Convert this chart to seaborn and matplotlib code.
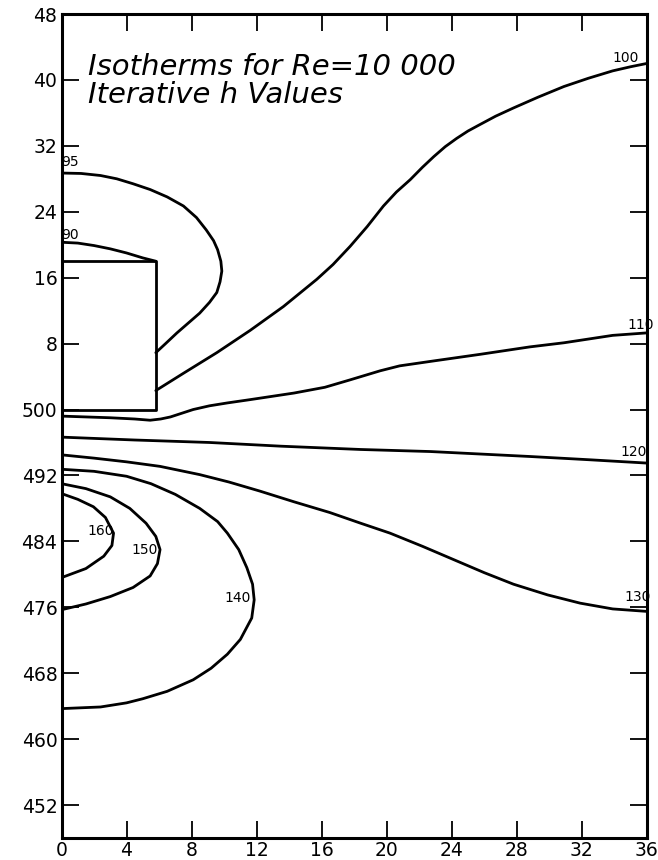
import matplotlib
matplotlib.use("Agg")
import matplotlib.pyplot as plt
import seaborn as sns
import pandas as pd

sns.set_theme(style="white")
plt.rcParams['font.family'] = ['DejaVu Sans']

# ---- data (x = distance, y = position; y<=0 labelled 500+y) ----
box_x = [0, 5.8, 5.8, 0]
box_y = [18.0, 18.0, 0.0, 0.0]

c90_x = [0, 1, 2, 3, 4, 5, 5.8]
c90_y = [20.3, 20.2, 19.9, 19.5, 19.0, 18.4, 18.0]

c95_x = [0, 1.2, 2.4, 3.4, 4.4, 5.45, 6.5, 7.5, 8.3, 8.9, 9.35, 9.6, 9.8, 9.86, 9.75, 9.55, 9.1, 8.5, 7.8, 7.1, 6.4, 5.8]
c95_y = [28.7, 28.65, 28.4, 28.0, 27.4, 26.7, 25.8, 24.7, 23.3, 21.8, 20.5, 19.4, 18.0, 16.8, 15.5, 14.2, 13.0, 11.7, 10.5, 9.3, 8.0, 6.9]

c100_x = [5.8, 7.5, 9.55, 11.6, 13.65, 15.7, 16.7, 17.75, 18.8, 19.8, 20.6, 21.45, 22.2, 22.9, 23.6, 24.3, 25.0, 25.75, 26.7, 27.8, 29.3, 30.9, 32.4, 33.9, 35.0, 36.0]
c100_y = [2.3, 4.4, 6.9, 9.6, 12.5, 15.8, 17.6, 19.8, 22.2, 24.7, 26.4, 27.9, 29.4, 30.7, 31.9, 32.9, 33.8, 34.6, 35.6, 36.6, 37.9, 39.2, 40.2, 41.1, 41.6, 42.0]

c110_x = [0, 3, 4.5, 5.45, 6.1, 6.7, 7.4, 8.1, 9.1, 10.2, 11.6, 14.3, 16.2, 17.75, 19.6, 20.8, 22.9, 25.75, 28.8, 30.9, 33.9, 36.0]
c110_y = [-0.8, -1.0, -1.15, -1.3, -1.15, -0.9, -0.45, 0.0, 0.45, 0.8, 1.2, 2.0, 2.7, 3.6, 4.7, 5.3, 5.9, 6.7, 7.6, 8.1, 9.0, 9.3]

c120_x = [0, 4.5, 9.1, 13.5, 18.4, 22.7, 28.8, 32.5, 36.0]
c120_y = [-3.35, -3.7, -4.0, -4.45, -4.85, -5.1, -5.7, -6.1, -6.5]

c130_x = [0, 2, 4, 6.06, 8.5, 10.3, 12.2, 14.3, 16.5, 18.4, 20.2, 22.2, 24.1, 26.0, 27.8, 29.9, 31.9, 33.9, 36.0]
c130_y = [-5.5, -5.9, -6.35, -6.9, -7.9, -8.8, -9.9, -11.2, -12.5, -13.8, -15.0, -16.6, -18.2, -19.8, -21.2, -22.5, -23.5, -24.2, -24.5]

c140_x = [0, 2, 4.0, 5.5, 7.0, 8.5, 9.6, 10.2, 10.9, 11.4, 11.75, 11.85, 11.7, 11.0, 10.2, 9.2, 8.1, 6.5, 5.0, 4.0, 2.4, 0]
c140_y = [-7.25, -7.5, -8.1, -9.0, -10.3, -12.0, -13.6, -15.0, -17.0, -19.2, -21.2, -23.1, -25.3, -27.9, -29.7, -31.4, -32.8, -34.2, -35.1, -35.6, -36.1, -36.3]

c150_x = [0, 1.5, 3.0, 4.2, 5.2, 5.8, 6.06, 5.9, 5.45, 4.4, 3.0, 1.5, 0]
c150_y = [-9.0, -9.6, -10.6, -12.0, -13.8, -15.4, -17.0, -18.7, -20.2, -21.6, -22.7, -23.6, -24.3]

c160_x = [0, 1.0, 1.96, 2.7, 3.2, 3.1, 2.6, 1.5, 0]
c160_y = [-10.2, -10.9, -11.8, -13.1, -15.0, -16.5, -17.8, -19.3, -20.4]

curve_names = ["90", "95", "100", "110", "120", "130", "140", "150", "160"]
curve_xs = [c90_x, c95_x, c100_x, c110_x, c120_x, c130_x, c140_x, c150_x, c160_x]
curve_ys = [c90_y, c95_y, c100_y, c110_y, c120_y, c130_y, c140_y, c150_y, c160_y]

label_text = ["95", "90", "100", "110", "120", "130", "140", "150", "160"]
label_x = [0.0, 0.0, 33.9, 34.8, 34.4, 34.6, 10.0, 4.3, 1.6]
label_y = [30.0, 21.2, 42.7, 10.2, -5.2, -22.8, -22.9, -17.0, -14.8]

title_lines = ["Isotherms for Re=10 000", "Iterative h Values"]
title_x = [1.63, 1.63]
title_y = [40.65, 37.25]

x_ticks = list(range(0, 37, 4))
y_ticks = list(range(-48, 49, 8))
y_tick_labels = [str(v) if v > 0 else str(500 + v) for v in y_ticks]

# ---- build long table ----
rows = []
for name, xs, ys in zip(curve_names, curve_xs, curve_ys):
    for i, (xx, yy) in enumerate(zip(xs, ys)):
        rows.append({"curve": name, "order": i, "x": xx, "y": yy})
df = pd.DataFrame(rows)
box_df = pd.DataFrame({"x": box_x, "y": box_y})

fig = plt.figure(figsize=(6.58, 8.6), dpi=100)
ax = fig.add_axes([0.0935, 0.0256, 0.8895, 0.9581])

sns.lineplot(data=df, x="x", y="y", units="curve", estimator=None, sort=False,
             color="black", linewidth=2.0, ax=ax)
sns.lineplot(data=box_df, x="x", y="y", estimator=None, sort=False,
             color="black", linewidth=2.0, ax=ax)

for t, lx, ly in zip(label_text, label_x, label_y):
    ax.text(lx, ly, t, fontsize=10, ha="left", va="center", color="black")

for t, tx, ty in zip(title_lines, title_x, title_y):
    ax.text(tx, ty, t, fontsize=21, style="italic", ha="left", va="baseline",
            color="black")

ax.set_xlim(0, 36)
ax.set_ylim(-52, 48)
ax.set_xticks(x_ticks)
ax.set_xticklabels([str(v) for v in x_ticks])
ax.set_yticks(y_ticks)
ax.set_yticklabels(y_tick_labels)
ax.set_xlabel("")
ax.set_ylabel("")
ax.tick_params(axis="both", which="both", direction="in", length=12, width=1.3,
               top=True, right=True, bottom=True, left=True,
               labelsize=13.5, pad=3, colors="black")
ax.tick_params(axis="x", pad=2)
for s in ax.spines.values():
    s.set_visible(True)
    s.set_color("black")
    s.set_linewidth(2.2)

fig.savefig("out.png", dpi=100, facecolor="white")
